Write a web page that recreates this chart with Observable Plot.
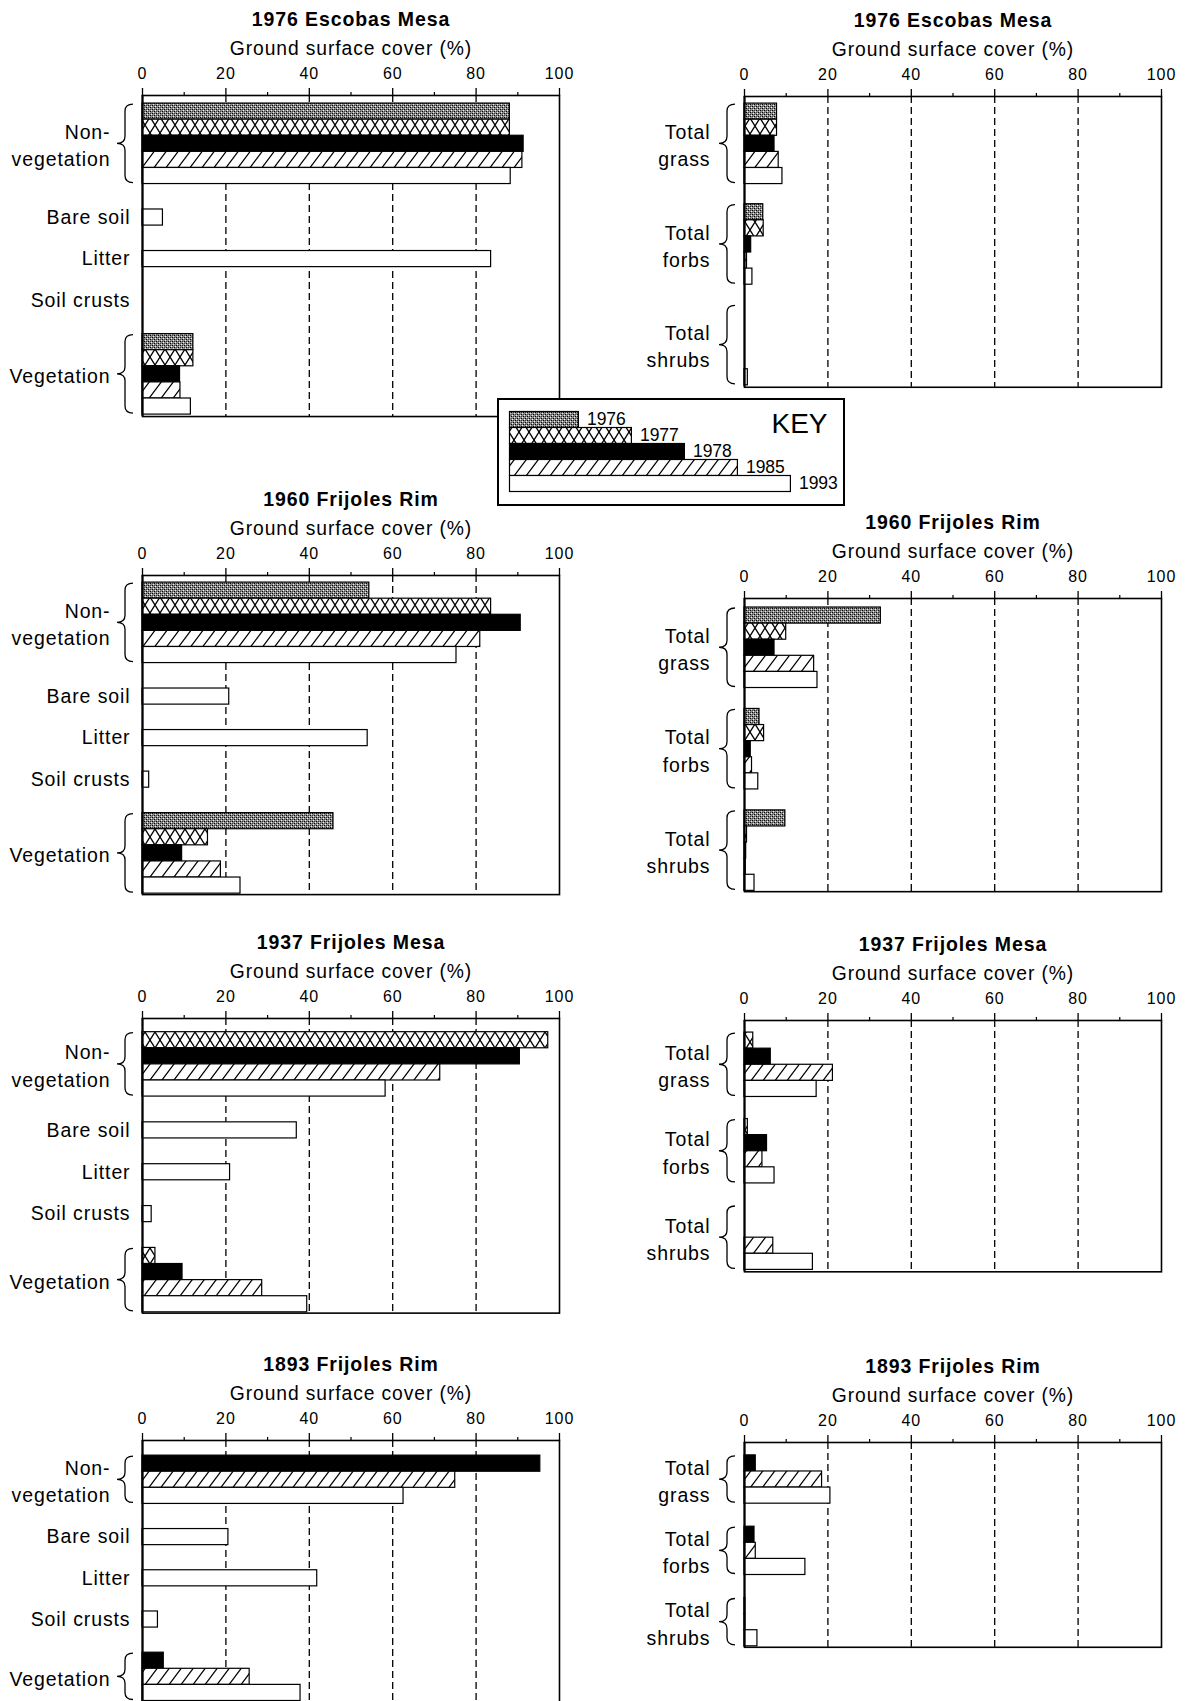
<!DOCTYPE html>
<html>
<head>
<meta charset="utf-8">
<script src="https://cdn.jsdelivr.net/npm/d3@7"></script>
<script src="https://cdn.jsdelivr.net/npm/@observablehq/plot@0.6"></script>
<style>
  html, body { margin: 0; padding: 0; background: #fff; }
  #page { position: relative; width: 1186px; height: 1701px; overflow: hidden;
          font-family: "Liberation Sans", Arial, Helvetica, sans-serif; }
  .panel { position: absolute; }
  #key { position: absolute; left: 497px; top: 398px; width: 348px; height: 108px;
         box-sizing: border-box; border: 2.5px solid #000; background: #fff; z-index: 5; }
</style>
</head>
<body>
<!-- Fill patterns shared by every panel -->
<svg width="0" height="0" style="position:absolute;left:0;top:0" aria-hidden="true">
  <defs>
    <pattern id="fill-1976" width="4" height="4" patternUnits="userSpaceOnUse">
      <rect width="4" height="4" fill="#8c8c8c"/>
      <rect x="0" y="0" width="1" height="1" fill="#000"/>
      <rect x="2" y="2" width="1" height="1" fill="#000"/>
      <rect x="2" y="0" width="1" height="1" fill="#333"/>
      <rect x="0" y="2" width="1" height="1" fill="#444"/>
      <rect x="1" y="3" width="1" height="1" fill="#eee"/>
      <rect x="3" y="1" width="1" height="1" fill="#eee"/>
    </pattern>
    <pattern id="fill-1977" width="10" height="16" patternUnits="userSpaceOnUse">
      <rect width="10" height="16" fill="#fff"/>
      <path d="M-1,-1.6L11,17.6M11,-1.6L-1,17.6" stroke="#000" stroke-width="1.3"/>
    </pattern>
    <pattern id="fill-1985" width="12" height="16" patternUnits="userSpaceOnUse">
      <rect width="12" height="16" fill="#fff"/>
      <path d="M-1,17.3L13,-1.3M-13,17.3L1,-1.3M11,17.3L25,-1.3" stroke="#000" stroke-width="1.3"/>
    </pattern>
  </defs>
</svg>
<div id="page">
  <div id="key"></div>
</div>
<script>
// ---- Data -------------------------------------------------------------
const years = ["1976", "1977", "1978", "1985", "1993"];
const sites = ["1976 Escobas Mesa", "1960 Frijoles Rim", "1937 Frijoles Mesa", "1893 Frijoles Rim"];
const groundLabels = ["Non-\nvegetation", "Bare soil", "Litter", "Soil crusts", "Vegetation"];
const lifeFormLabels = ["Total\ngrass", "Total\nforbs", "Total\nshrubs"];
const xTicks = [0, 20, 40, 60, 80, 100];
const xMinorTicks = [10, 30, 50, 70, 90];
const xGrid = [20, 40, 60, 80];

// Ground surface cover (%) by survey year; one row per site, null = not surveyed
const nonVegetation = [
  [88.1, 88.1, 91.4, 91.1, 88.3],
  [54.4, 83.6, 90.7, 81.0, 75.3],
  [null, 97.3, 90.5, 71.4, 58.3],
  [null, null, 95.4, 75.0, 62.6]
];
const vegetation = [
  [12.2, 12.2, 9.0, 9.1, 11.6],
  [45.8, 15.7, 9.5, 18.8, 23.5],
  [null, 3.1, 9.6, 28.7, 39.5],
  [null, null, 5.1, 25.7, 37.9]
];
// Components of non-vegetation, 1993 survey only
const bareSoil1993 = [4.9, 20.8, 37.0, 20.6];
const litter1993 = [83.6, 54.0, 21.0, 41.9];
const soilCrusts1993 = [null, 1.6, 2.2, 3.7];

// Vegetation by life form
const totalGrass = [
  [7.8, 7.8, 7.2, 8.2, 9.1],
  [32.7, 10.0, 7.2, 16.7, 17.5],
  [null, 2.1, 6.3, 21.2, 17.3],
  [null, null, 2.7, 18.6, 20.6]
];
const totalForbs = [
  [4.5, 4.6, 1.6, 0.6, 1.9],
  [3.6, 4.7, 1.5, 1.8, 3.3],
  [null, 0.8, 5.4, 4.3, 7.2],
  [null, null, 2.4, 2.7, 14.6]
];
const totalShrubs = [
  [0, 0, 0, 0, 0.8],
  [9.8, 0.6, 0.4, 0.3, 2.4],
  [null, 0, 0, 6.9, 16.4],
  [null, null, 0.2, 0.2, 3.1]
];

// ---- Styling ----------------------------------------------------------
const yearFill = {
  "1976": "url(#fill-1976)",
  "1977": "url(#fill-1977)",
  "1978": "black",
  "1985": "url(#fill-1985)",
  "1993": "white"
};
const FONT = "'Liberation Sans', Arial, Helvetica, sans-serif";
const BAR = 16.1;          // pixel thickness of one bar
const PLOT_W = 417;        // pixel width of the 0–100 % axis
const MARGIN_TOP = 90;

// Placement of the eight panels (left column: ground cover; right: life forms)
const panelSpecs = [
  {site: 0, kind: "ground", axisTop: 95,   topPad: 0.5,  gap: 1.58, bottomPad: 0.12},
  {site: 0, kind: "life",   axisTop: 96,   topPad: 0.44, gap: 1.25, bottomPad: 0.12},
  {site: 1, kind: "ground", axisTop: 575,  topPad: 0.44, gap: 1.58, bottomPad: 0.06},
  {site: 1, kind: "life",   axisTop: 598,  topPad: 0.56, gap: 1.3,  bottomPad: 0.05},
  {site: 2, kind: "ground", axisTop: 1018, topPad: 0.85, gap: 1.6,  bottomPad: 0.05},
  {site: 2, kind: "life",   axisTop: 1020, topPad: 0.75, gap: 1.37, bottomPad: 0.12},
  {site: 3, kind: "ground", axisTop: 1440, topPad: 0.94, gap: 1.56, bottomPad: 0.1},
  {site: 3, kind: "life",   axisTop: 1442, topPad: 0.8,  gap: 1.43, bottomPad: 0.06}
];
const columns = {
  ground: {left: 0,   width: 580, marginLeft: 142, groupDx: -32, singleDx: -12},
  life:   {left: 600, width: 586, marginLeft: 144, groupDx: -34, singleDx: -12}
};

// ---- Layout of bars within a panel -----------------------------------
function categoriesFor(spec) {
  const s = spec.site;
  if (spec.kind === "ground") {
    return [
      {label: groundLabels[0], byYear: nonVegetation[s]},
      {label: groundLabels[1], single: bareSoil1993[s]},
      {label: groundLabels[2], single: litter1993[s]},
      {label: groundLabels[3], single: soilCrusts1993[s]},
      {label: groundLabels[4], byYear: vegetation[s]}
    ];
  }
  return [
    {label: lifeFormLabels[0], byYear: totalGrass[s]},
    {label: lifeFormLabels[1], byYear: totalForbs[s]},
    {label: lifeFormLabels[2], byYear: totalShrubs[s]}
  ];
}

function layoutRows(cats, spec) {
  const bars = [], groupLabels = [], singleLabels = [], spans = [];
  let pos = spec.topPad;
  for (const c of cats) {
    if (c.byYear) {
      const start = pos;
      years.forEach((yr, i) => {
        const v = c.byYear[i];
        if (v != null) { bars.push({year: yr, value: v, y1: pos, y2: pos + 1}); pos += 1; }
      });
      groupLabels.push({label: c.label, y: (start + pos) / 2});
      spans.push({y1: start, y2: pos});
    } else {
      if (c.single != null) bars.push({year: "1993", value: c.single, y1: pos, y2: pos + 1});
      singleLabels.push({label: c.label, y: pos + 0.5});
      pos += 1;
    }
    pos += spec.gap;
  }
  return {bars, groupLabels, singleLabels, spans, total: pos - spec.gap + spec.bottomPad};
}

// Curly braces to the left of each grouped category
function braceMark(spans) {
  return (index, scales) => {
    const {x, y} = scales;
    const x0 = x(0), xe = x0 - 9, xs = x0 - 17, xt = x0 - 25, r = 7;
    const g = d3.create("svg:g").attr("fill", "none").attr("stroke", "black").attr("stroke-width", 1.3);
    for (const s of spans) {
      const a = y(s.y1) + 1, b = y(s.y2) - 1, m = (a + b) / 2;
      const p = d3.path();
      p.moveTo(xe, a);
      p.quadraticCurveTo(xs, a, xs, a + r);
      p.lineTo(xs, m - r);
      p.quadraticCurveTo(xs, m, xt, m);
      p.quadraticCurveTo(xs, m, xs, m + r);
      p.lineTo(xs, b - r);
      p.quadraticCurveTo(xs, b, xe, b);
      g.append("path").attr("d", p.toString());
    }
    return g.node();
  };
}

function panelPlot(spec) {
  const col = columns[spec.kind];
  const rows = layoutRows(categoriesFor(spec), spec);
  const plotH = rows.total * BAR;
  return Plot.plot({
    width: col.width,
    height: MARGIN_TOP + plotH + 3,
    marginLeft: col.marginLeft,
    marginRight: col.width - col.marginLeft - PLOT_W,
    marginTop: MARGIN_TOP,
    marginBottom: 3,
    x: {domain: [0, 100], axis: null, label: null},
    y: {domain: [0, rows.total], reverse: true, axis: null, label: null},
    style: {fontFamily: FONT, color: "black", background: "none", letterSpacing: "0.9px", overflow: "visible"},
    marks: [
      Plot.ruleX(xGrid, {stroke: "black", strokeWidth: 1.3, strokeDasharray: "7,4"}),
      ...years.map(yr => Plot.rect(rows.bars.filter(b => b.year === yr), {
        x1: () => 0, x2: "value", y1: "y1", y2: "y2",
        fill: yearFill[yr], stroke: "black", strokeWidth: 1.2
      })),
      Plot.frame({stroke: "black", strokeWidth: 1.6}),
      Plot.ruleX([0], {stroke: "black", strokeWidth: 2}),
      Plot.axisX({anchor: "top", ticks: xTicks, tickSize: 8, tickPadding: 8, fontSize: 16,
                  label: null, stroke: "black", fill: "black", strokeWidth: 1.3}),
      Plot.axisX({anchor: "top", ticks: xMinorTicks, tickSize: 4, tickFormat: () => "",
                  label: null, stroke: "black", strokeWidth: 1.2}),
      Plot.text(rows.groupLabels, {x: () => 0, y: "y", text: "label", textAnchor: "end",
                  dx: col.groupDx, lineHeight: 1.4, fontSize: 19.5, fill: "black"}),
      Plot.text(rows.singleLabels, {x: () => 0, y: "y", text: "label", textAnchor: "end",
                  dx: col.singleDx, fontSize: 19.5, fill: "black"}),
      braceMark(rows.spans),
      Plot.text([sites[spec.site]], {frameAnchor: "top", dy: -83, text: d => d,
                  fontWeight: "bold", fontSize: 19.5, fill: "black"}),
      Plot.text(["Ground surface cover (%)"], {frameAnchor: "top", dy: -54, text: d => d,
                  fontSize: 19.3, fill: "black"})
    ]
  });
}

const page = document.getElementById("page");
for (const spec of panelSpecs) {
  const col = columns[spec.kind];
  const div = document.createElement("div");
  div.className = "panel";
  div.style.left = col.left + "px";
  div.style.top = (spec.axisTop - MARGIN_TOP) + "px";
  div.appendChild(panelPlot(spec));
  page.appendChild(div);
}

// ---- Key ---------------------------------------------------------------
const keyRows = years.map((yr, i) => ({year: yr, rank: i, end: i + 1.3}));
const keyPlot = Plot.plot({
  width: 343, height: 103,
  marginLeft: 10.5, marginRight: 0, marginTop: 11.5, marginBottom: 11.5,
  x: {domain: [0, 6], range: [10.5, 10.5 + 318], axis: null, label: null},
  y: {domain: [0, years.length], reverse: true, axis: null, label: null},
  style: {fontFamily: FONT, color: "black", background: "none", overflow: "visible"},
  marks: [
    ...keyRows.map(k => Plot.rect([k], {x1: () => 0, x2: "end", y1: "rank", y2: d => d.rank + 1,
                    fill: yearFill[k.year], stroke: "black", strokeWidth: 1.2})),
    Plot.text(keyRows, {x: "end", y: d => d.rank + 0.45, text: "year", textAnchor: "start",
                    dx: 8, fontSize: 17.5, fill: "black"}),
    Plot.text(["KEY"], {frameAnchor: "top-right", dx: -15, dy: 1, text: d => d,
                    fontSize: 28, fill: "black"})
  ]
});
document.getElementById("key").appendChild(keyPlot);
</script>
</body>
</html>
